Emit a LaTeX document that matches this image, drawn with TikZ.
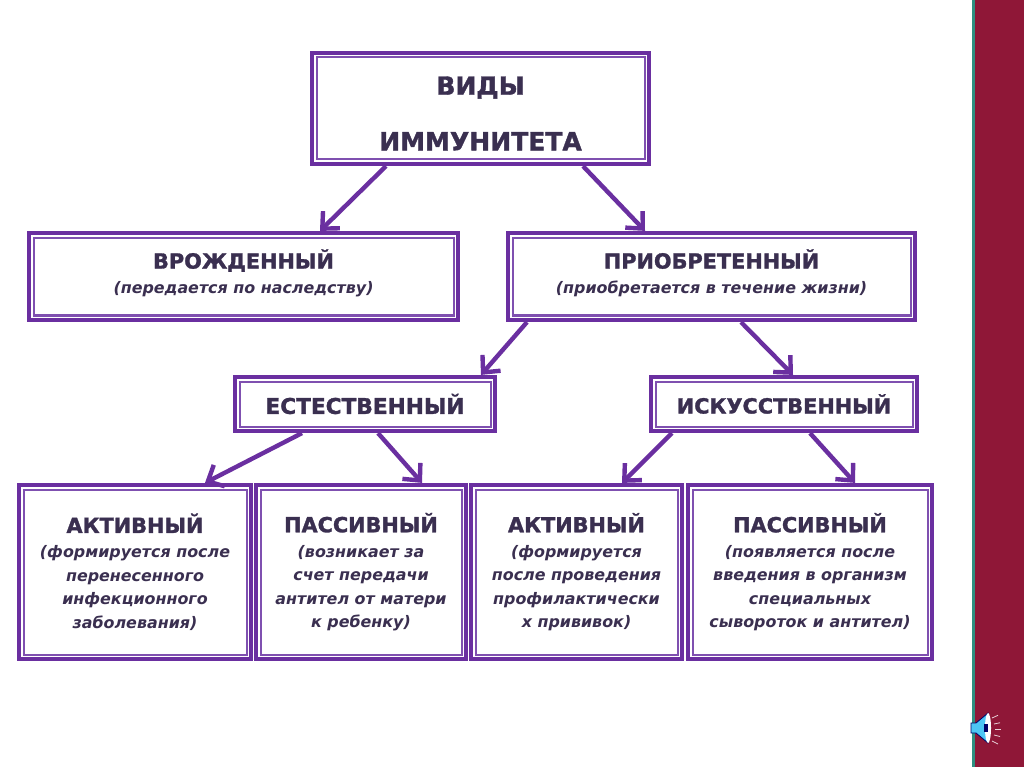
\documentclass[tikz,border=0pt]{standalone}
\usepackage{fontspec}
\setmainfont{DejaVu Sans}
\newfontfamily\hvy[FakeBold=1.4]{DejaVu Sans Bold}
\usetikzlibrary{arrows.meta}
\definecolor{vio}{HTML}{6A2FA0}
\definecolor{violt}{HTML}{7F50B0}
\definecolor{ink}{HTML}{3A2F50}
\definecolor{wine}{HTML}{8F1737}
\definecolor{teal1}{HTML}{2F8F80}
\tikzset{
  bx/.style 2 args={draw=vio,line width=0.11cm,text=ink,align=center,inner sep=0pt,
    minimum width=#1*0.025cm-0.055cm,minimum height=#2*0.025cm-0.055cm,
    append after command={
      \pgfextra{\draw[violt,line width=0.05cm]
        ([xshift=0.165cm,yshift=0.165cm]\tikzlastnode.south west) rectangle
        ([xshift=-0.165cm,yshift=-0.165cm]\tikzlastnode.north east);}}},
  arr/.style={draw=vio,line width=0.11cm,-{Straight Barb[length=0.32cm,width=0.6cm,line width=0.11cm]}}
}
\newcommand{\hd}{\hvy\fontsize{14.8}{19}\selectfont}
\newcommand{\sm}{\fontsize{11.3}{16.4}\bfseries\itshape}
\newcommand{\nl}{\\[4.7pt]\sm }
\begin{document}
\begin{tikzpicture}[x=0.025cm,y=-0.025cm]
  \useasboundingbox (0,0) rectangle (1024,767);
  \fill[white] (0,0) rectangle (1024,767);
  % side panel
  \fill[wine] (974,0) rectangle (1024,767);
  \fill[teal1] (972,0) rectangle (974.5,767);
  % boxes
  \node[bx={339}{113}] (vid) at (480.5,108.5) {\hvy\fontsize{17.8}{39}\selectfont\rule{0pt}{20pt}ВИДЫ\\[22.8pt]\hvy\fontsize{17.8}{39}\selectfont ИММУНИТЕТА};
  \node[bx={431}{89}] (vrozh) at (243.5,276.5) {\hd ВРОЖДЕННЫЙ\\[5.7pt]\sm (передается по наследству)\rule[-7.3pt]{0pt}{0pt}};
  \node[bx={409}{89}] (priob) at (711.5,276.5) {\hd ПРИОБРЕТЕННЫЙ\\[5.7pt]\sm (приобретается в течение жизни)\rule[-7.3pt]{0pt}{0pt}};
  \node[bx={262}{56}] (est) at (365,404) {\hvy\fontsize{15.4}{19}\selectfont ЕСТЕСТВЕННЫЙ};
  \node[bx={268}{56}] (isk) at (784,404) {\hd ИСКУССТВЕННЫЙ};
  \node[bx={234}{176}] (akt1) at (135,572) {\hd АКТИВНЫЙ\\[5.7pt]\sm (формируется после\nl перенесенного\nl инфекционного\nl заболевания)};
  \node[bx={212}{176}] (pas1) at (361,572) {\hd ПАССИВНЫЙ\\[5.7pt]\sm (возникает за\nl счет передачи\nl антител от матери\nl к ребенку)};
  \node[bx={213}{176}] (akt2) at (576.5,572) {\hd АКТИВНЫЙ\\[5.7pt]\sm (формируется\nl после проведения\nl профилактически\nl х прививок)};
  \node[bx={246}{176}] (pas2) at (810,572) {\hd ПАССИВНЫЙ\\[5.7pt]\sm (появляется после\nl введения в организм\nl специальных\nl сывороток и антител)};
  % arrows
  \foreach \a/\sa/\b/\sb in {vid/-94.5/vrozh/76.5,vid/102.5/priob/-66.5,priob/-184.5/est/116,priob/29.5/isk/9,
    est/-63/akt1/70,est/13/pas1/61,isk/-112/akt2/45.5,isk/26/pas2/45}{
    \draw[arr] ([xshift=\sa*0.025cm]\a.south)--([xshift=\sb*0.025cm]\b.north);}
  % speaker
  \fill[cyan!70!white,draw=blue!40!black,line width=0.02cm] (971,723) -- (976,723) -- (988,713) -- (988,743) -- (976,733) -- (971,733) -- cycle;
  \fill[white] (988,728) ellipse (3 and 15);
  \fill[blue!40!black] (984,724) rectangle (988,732);
  \foreach \p/\q in {992/718,994/724,995/729,994/735,992/741}{
    \draw[white!80!wine,line width=0.02cm] (\p,\q)--++(6,{(\q-729)*0.25});}
\end{tikzpicture}
\end{document}
